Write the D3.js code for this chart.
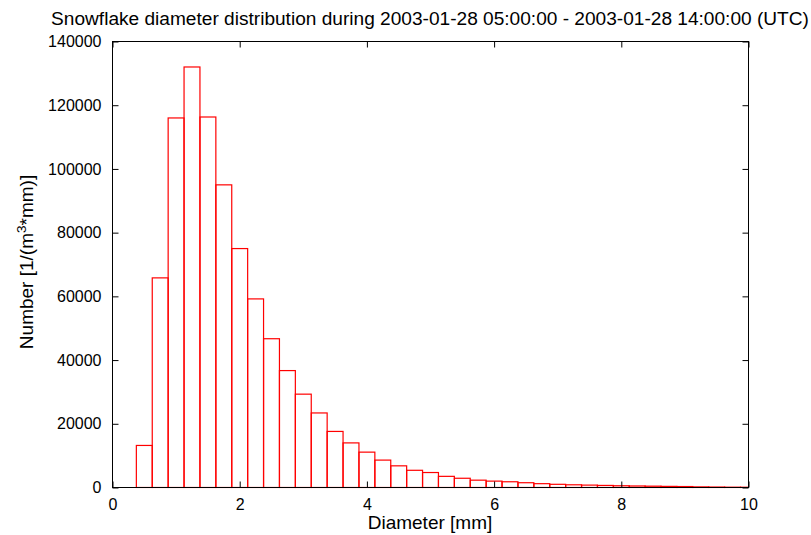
<!DOCTYPE html>
<html>
<head>
<meta charset="utf-8">
<script src="https://cdn.jsdelivr.net/npm/d3@7"></script>
<style>
  body { margin: 0; background: #fff; }
  text { font-family: "Liberation Sans", Arial, sans-serif; fill: #000; }
</style>
</head>
<body>
<div class="chart"></div>
<script>
// bin centres [mm], width 0.25 mm
const diameters = [0.5, 0.75, 1.0, 1.25, 1.5, 1.75, 2.0, 2.25, 2.5, 2.75,
                   3.0, 3.25, 3.5, 3.75, 4.0, 4.25, 4.5, 4.75, 5.0, 5.25,
                   5.5, 5.75, 6.0, 6.25, 6.5, 6.75, 7.0, 7.25, 7.5, 7.75,
                   8.0, 8.25, 8.5, 8.75, 9.0, 9.25, 9.5, 9.75, 10.0];
// number concentration [1/(m^3*mm)]
const counts = [13200, 65800, 116000, 132000, 116300, 95000, 75000, 59200, 46700, 36700,
                29300, 23400, 17600, 14000, 11100, 8600, 6800, 5400, 4700, 3500,
                2900, 2300, 2000, 1800, 1500, 1200, 1000, 850, 750, 650,
                550, 480, 420, 350, 300, 200, 150, 100, 80];
const binWidth = 0.25;
const xTicks = [0, 2, 4, 6, 8, 10];
const yTicks = [0, 20000, 40000, 60000, 80000, 100000, 120000, 140000];

const data = diameters.map((d, i) => ({d: d, n: counts[i]}));

const margin = ({top: 41, right: 63, bottom: 48, left: 112});
const W = 811, H = 535;
const w = W - margin.left - margin.right,
      h = H - margin.top - margin.bottom;

const svg = d3.select(".chart")
  .append("svg")
  .attr("width", W)
  .attr("height", H);

const g = svg.append("g")
  .attr("transform", `translate(${margin.left + 0.5},${margin.top + 0.5})`);

const xScale = d3.scaleLinear().domain([0, 10]).range([0, w]);
const yScale = d3.scaleLinear().domain([0, 140000]).range([h, 0]);

g.append("clipPath").attr("id", "clip")
  .append("rect").attr("x", 0).attr("y", -1).attr("width", w).attr("height", h + 2);

//bars
g.append("g")
  .attr("clip-path", "url(#clip)")
  .selectAll("rect")
  .data(data)
  .enter()
  .append("rect")
    .attr("x", d => xScale(d.d - binWidth / 2))
    .attr("y", d => yScale(d.n))
    .attr("width", d => xScale(d.d + binWidth / 2) - xScale(d.d - binWidth / 2))
    .attr("height", d => yScale(0) - yScale(d.n))
    .attr("fill", "none")
    .attr("stroke", "#ff0000")
    .attr("stroke-width", 1.2);

//axes, ticks pointing inward, mirrored on top / right
const fmt = d3.format("d");
const xAxis = d3.axisBottom(xScale).tickValues(xTicks).tickFormat(fmt).tickSizeInner(-6).tickSizeOuter(0).tickPadding(12);
const yAxis = d3.axisLeft(yScale).tickValues(yTicks).tickFormat(fmt).tickSizeInner(-6).tickSizeOuter(0).tickPadding(11);

const xAxisGroup = g.append("g").attr("transform", `translate(0,${h})`).call(xAxis);
const yAxisGroup = g.append("g").call(yAxis);
const xTop = g.append("g").call(d3.axisTop(xScale).tickValues(xTicks).tickSizeInner(-6).tickSizeOuter(0).tickFormat(""));
const yRight = g.append("g").attr("transform", `translate(${w},0)`)
  .call(d3.axisRight(yScale).tickValues(yTicks).tickSizeInner(-6).tickSizeOuter(0).tickFormat(""));

[xAxisGroup, yAxisGroup, xTop, yRight].forEach(a => {
  a.select(".domain").remove();
  a.selectAll(".tick line").attr("stroke", "#000");
  a.selectAll("text").attr("font-size", 16).attr("font-family", null).attr("fill", "#000");
});
xAxisGroup.selectAll("text").attr("dy", "0.66em");

//border
g.append("rect")
  .attr("width", w).attr("height", h)
  .attr("fill", "none").attr("stroke", "#000").attr("stroke-width", 1);

//title & labels
svg.append("text")
  .attr("x", 430).attr("y", 25)
  .attr("text-anchor", "middle")
  .attr("font-size", 19.1)
  .text("Snowflake diameter distribution during 2003-01-28 05:00:00 - 2003-01-28 14:00:00 (UTC)");

svg.append("text")
  .attr("x", margin.left + w / 2).attr("y", 529)
  .attr("text-anchor", "middle")
  .attr("font-size", 19)
  .text("Diameter [mm]");

const yl = svg.append("text")
  .attr("transform", `translate(33,${margin.top + h / 2 - 2}) rotate(-90)`)
  .attr("text-anchor", "middle")
  .attr("font-size", 19);
yl.append("tspan").text("Number [1/(m");
yl.append("tspan").attr("dy", -7).attr("font-size", 13.5).text("3");
yl.append("tspan").attr("dy", 7).text("*mm)]");
</script>
</body>
</html>
